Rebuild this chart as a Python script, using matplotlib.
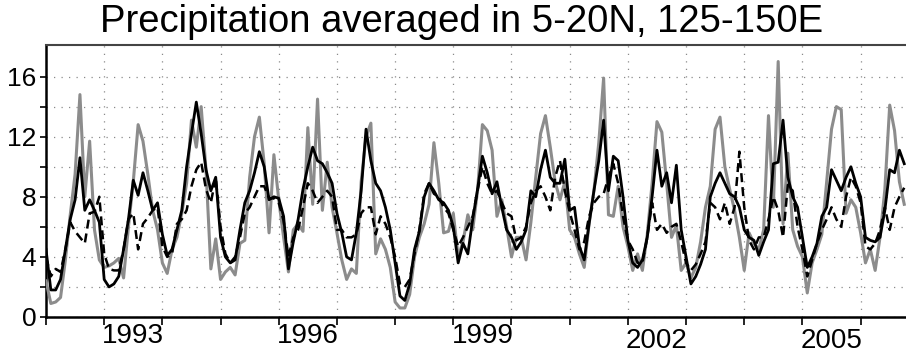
import matplotlib.pyplot as plt
import numpy as np

# monthly values, Jan 1992 onwards (mm/day)
series_gray = [
    2.4, 0.9, 1.0, 1.3, 3.8, 6.8, 9.5, 14.8, 8.0, 11.7, 5.8, 3.8,
    3.3, 3.4, 3.6, 3.9, 2.6, 6.0, 9.0, 12.8, 11.7, 9.5, 7.1, 5.8,
    3.6, 2.9, 4.5, 5.3, 6.9, 8.9, 13.1, 11.3, 14.0, 9.8, 3.2, 5.2,
    2.5, 3.0, 3.3, 2.8, 4.9, 5.1, 9.3, 12.0, 13.3, 10.2, 5.6, 10.8,
    7.8, 5.3, 3.0, 5.8, 6.2, 5.7, 12.6, 7.5, 14.5, 7.1, 10.3, 7.3,
    5.6, 3.8, 2.5, 3.2, 2.9, 9.0, 12.0, 12.9, 4.2, 5.2, 4.5, 3.3,
    1.0, 0.6, 0.6, 1.5, 4.0, 5.3, 6.2, 7.5, 11.6, 8.9, 5.6, 5.7,
    6.9, 4.0, 5.0, 6.8, 5.8, 8.4, 12.8, 12.4, 11.1, 6.7, 7.8, 6.0,
    4.0, 5.3, 5.3, 3.8, 6.3, 9.3, 12.2, 13.4, 11.3, 9.0, 7.8, 9.0,
    5.8, 5.3, 4.2, 3.3, 6.2, 8.4, 11.6, 15.9, 6.8, 6.7, 8.7, 6.0,
    4.7, 3.1, 4.2, 3.1, 5.5, 8.9, 13.0, 12.3, 8.9, 5.3, 6.1, 3.1,
    3.6, 2.6, 3.3, 5.0, 7.3, 8.7, 12.5, 13.3, 10.0, 8.5, 7.1, 5.3,
    3.1, 5.6, 4.9, 4.5, 5.8, 13.4, 7.3, 17.0, 6.2, 10.9, 5.8, 4.7,
    4.0, 1.6, 3.6, 4.5, 5.5, 9.0, 12.5, 14.0, 13.8, 6.9, 7.8, 7.3,
    5.6, 3.6, 4.5, 3.1, 5.3, 8.5, 14.1, 12.4, 9.0, 7.5,
]
series_solid = [
    4.5, 1.8, 1.8, 2.5, 4.5, 6.5, 7.8, 10.6, 7.1, 7.8, 7.1, 6.3,
    2.5, 2.0, 2.2, 2.7, 4.5, 6.5, 9.1, 8.1, 9.6, 8.4, 7.1, 7.6,
    5.5, 4.1, 4.5, 5.8, 7.1, 10.0, 12.2, 14.3, 12.2, 9.8, 8.4, 9.3,
    5.3, 4.0, 3.6, 3.8, 5.8, 7.6, 8.4, 9.6, 11.0, 10.0, 7.8, 8.0,
    7.9, 6.7, 3.2, 5.0, 6.5, 8.5, 10.0, 11.3, 10.4, 10.2, 9.6, 8.9,
    6.9, 5.6, 4.0, 3.8, 5.6, 8.4, 12.5, 10.4, 8.9, 8.4, 7.3, 5.8,
    3.6, 1.4, 1.1, 2.2, 4.5, 5.7, 8.0, 8.9, 8.4, 7.8, 7.6, 7.1,
    6.0, 3.6, 4.9, 4.2, 6.5, 8.5, 10.7, 9.6, 8.2, 9.0, 7.3, 5.8,
    5.3, 4.5, 5.0, 5.8, 8.4, 8.0, 9.8, 11.1, 9.3, 8.9, 8.9, 10.5,
    7.1, 7.3, 4.7, 3.8, 6.2, 8.4, 10.4, 13.1, 8.4, 10.7, 10.4, 8.0,
    5.1, 3.6, 3.3, 3.8, 5.3, 8.0, 11.1, 8.7, 9.6, 7.6, 10.1, 5.8,
    4.0, 2.2, 2.7, 3.5, 4.5, 8.0, 8.9, 9.6, 8.9, 8.2, 8.0, 7.3,
    5.8, 5.3, 5.1, 4.1, 5.0, 5.8, 10.2, 10.3, 13.1, 9.3, 8.0, 7.3,
    5.3, 3.3, 4.0, 4.9, 6.7, 7.3, 9.8, 9.1, 8.4, 9.3, 10.0, 8.9,
    8.0, 5.3, 5.1, 5.0, 5.3, 7.1, 9.8, 9.6, 11.1, 10.2,
]
series_dashed = [
    4.0, 2.7, 3.2, 3.0, 4.5, 6.3, 5.7, 5.3, 4.9, 6.9, 7.0, 8.0,
    4.2, 3.2, 3.1, 3.1, 4.5, 6.5, 6.9, 4.5, 6.2, 6.6, 7.1, 7.3,
    4.7, 4.0, 4.2, 6.2, 6.5, 7.1, 8.7, 9.8, 10.3, 8.5, 7.6, 9.3,
    6.0, 4.2, 3.6, 4.0, 5.3, 6.9, 7.3, 8.0, 8.7, 8.7, 7.9, 7.9,
    7.6, 6.4, 4.0, 5.3, 5.8, 7.3, 8.9, 8.4, 7.6, 8.0, 8.4, 8.0,
    5.8, 5.8, 5.3, 5.3, 5.5, 6.9, 7.3, 7.3, 5.5, 6.7, 6.2, 5.3,
    4.0, 2.2, 2.0, 2.5, 4.2, 5.8, 8.2, 8.9, 8.2, 8.0, 7.3, 6.9,
    5.8, 4.7, 5.3, 6.0, 6.7, 8.4, 10.0, 8.9, 8.2, 8.4, 7.6, 6.9,
    6.7, 5.1, 5.3, 6.0, 7.6, 8.4, 8.7, 8.0, 7.1, 9.3, 10.4, 8.4,
    7.0, 5.8, 4.5, 5.0, 6.7, 7.6, 8.0, 8.2, 9.3, 10.2, 8.9, 6.7,
    5.1, 4.5, 3.6, 3.6, 5.3, 7.6, 5.8, 6.2, 5.6, 6.0, 6.2, 5.0,
    3.6, 3.1, 3.5, 4.2, 5.0, 7.6, 7.3, 6.5, 7.6, 6.2, 7.3, 11.0,
    7.3, 5.1, 4.5, 5.3, 5.3, 6.5, 8.0, 7.1, 5.3, 8.8, 8.4, 6.0,
    4.5, 2.7, 3.8, 4.9, 5.8, 6.5, 7.3, 6.5, 6.0, 8.0, 9.3, 8.7,
    7.6, 4.7, 4.5, 4.9, 5.8, 7.3, 5.8, 7.3, 8.0, 8.6,
]
year_labels = ["1993", "1996", "1999", "2002", "2005"]
y_labels = ["0", "", "4", "", "8", "", "12", "", "16"]

t = 1992 + np.arange(len(series_gray)) / 12.0

fig = plt.figure(figsize=(9.06, 3.56), dpi=100)
ax = fig.add_axes([46 / 906, 1 - 317 / 356, 1 - 46 / 906, 272 / 356])

ax.plot(t, series_gray, color="#8c8c8c", lw=2.2, zorder=3)
ax.plot(t, series_solid, color="black", lw=2.0, zorder=4)
ax.plot(t, series_dashed, color="black", lw=1.8, dashes=(3.6, 2.0), zorder=5)

ax.set_xlim(1992, 2006.78)
ax.set_ylim(0, 18.1)

# grid: every year, every 2 units
ax.set_xticks(np.arange(1992, 2007))
ax.set_xticklabels([])
ax.set_yticks(np.arange(0, 18, 2))
ax.set_yticklabels(y_labels, fontsize=19, family=["Liberation Sans", "DejaVu Sans"])
ax.grid(True, color="#8a8a8a", lw=0.9, linestyle=(0, (1, 5)))
ax.tick_params(axis="x", direction="out", length=6, width=1.2, color="black")
ax.tick_params(axis="y", direction="out", length=4, width=1.2, pad=3)

for lab in year_labels:
    yr = int(lab)
    ypos = -0.07 if yr < 2000 else -0.09
    ax.text(yr + 0.5, ypos, lab, transform=ax.get_xaxis_transform(),
            ha="center", va="center", fontsize=20,
            family=["Liberation Sans", "DejaVu Sans"])

for side in ["left", "bottom"]:
    ax.spines[side].set_linewidth(1.8)
    ax.spines[side].set_color("black")
ax.spines["top"].set_linewidth(1.5)
ax.spines["top"].set_color("#444444")
ax.spines["right"].set_visible(False)

fig.text(462 / 906, 1 - 22 / 356, "Precipitation averaged in 5-20N, 125-150E",
         ha="center", va="center", fontsize=27.5,
         family=["Liberation Sans", "DejaVu Sans"])

fig.savefig("out.png", dpi=100)
